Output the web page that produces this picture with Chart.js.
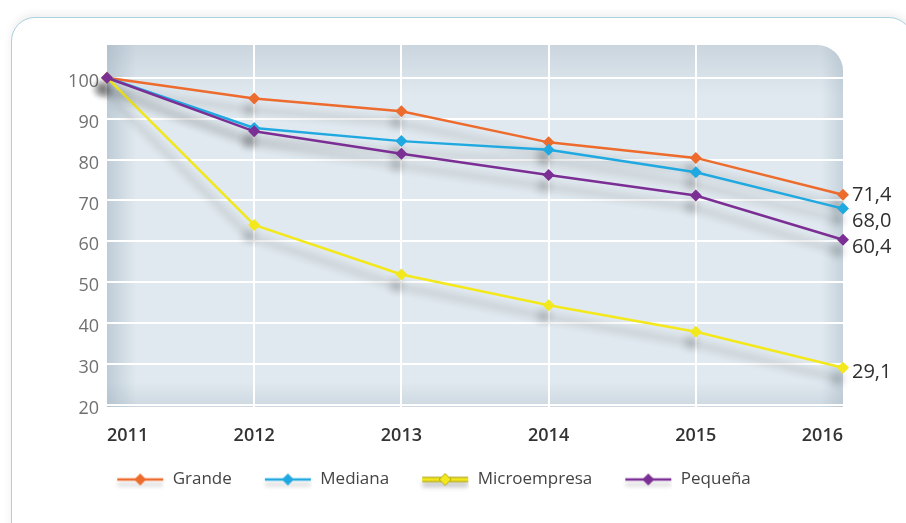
<!DOCTYPE html>
<html>
<head>
<meta charset="utf-8">
<script src="https://cdn.jsdelivr.net/npm/chart.js@4.4.1/dist/chart.umd.min.js"></script>
<style>
  html, body { margin: 0; padding: 0; background: #fff; }
  #wrap { position: relative; width: 906px; height: 523px; overflow: hidden; }
  #frame {
    position: absolute; left: 11px; top: 17px; width: 900px; height: 560px;
    border: 1.5px solid #aad2df; border-radius: 24px;
    box-shadow: 0 -3px 8px rgba(0, 0, 0, 0.07); background: #fff;
  }
  canvas { position: absolute; left: 0; top: 0; }
</style>
</head>
<body>
<div id="wrap">
  <div id="frame"></div>
  <canvas id="chart" width="906" height="523"></canvas>
</div>
<script>
// Datos (índice 2011 = 100)
const years = ['2011', '2012', '2013', '2014', '2015', '2016'];
const yTicks = [20, 30, 40, 50, 60, 70, 80, 90, 100];
const grande = [100, 94.9, 91.8, 84.2, 80.4, 71.4];
const mediana = [100, 87.7, 84.5, 82.4, 76.9, 68.0];
const micro = [100, 64.0, 51.9, 44.4, 37.9, 29.1];
const pequena = [100, 86.9, 81.4, 76.2, 71.2, 60.4];
const seriesNames = ['Grande', 'Mediana', 'Microempresa', 'Pequeña'];

const seriesColors = ['#ED6B2D', '#20A9E0', '#F3E81C', '#7B2E93'];
const legendOutline = [null, null, '#B5A91C', null];
const labelShift = [1, 13, 5, 8];   // desplazamiento vertical de las etiquetas finales
const drawOrder = [3, 2, 1, 0];     // Pequeña encima

// Icono de leyenda: hueco + línea + rombo (el hueco hace de separación entre elementos)
const ICON_W = 68;
function legendIcon(color, outline) {
  const c = document.createElement('canvas');
  c.width = ICON_W; c.height = 24;
  const g = c.getContext('2d');
  const x0 = 21, x1 = ICON_W - 1, mid = (x0 + x1) / 2;
  g.shadowColor = 'rgba(0,0,0,0.22)';
  g.shadowBlur = 4;
  g.shadowOffsetY = 5;
  if (outline) {
    g.strokeStyle = outline; g.lineWidth = 5.5;
    g.beginPath(); g.moveTo(x0, 12); g.lineTo(x1, 12); g.stroke();
    g.shadowColor = 'transparent';
  }
  g.strokeStyle = color; g.lineWidth = outline ? 3 : 2.5;
  g.beginPath(); g.moveTo(x0, 12); g.lineTo(x1, 12); g.stroke();
  g.shadowColor = 'transparent';
  g.fillStyle = color;
  g.beginPath();
  g.moveTo(mid, 6); g.lineTo(mid + 6, 12); g.lineTo(mid, 18); g.lineTo(mid - 6, 12);
  g.closePath(); g.fill();
  if (outline) { g.strokeStyle = outline; g.lineWidth = 1; g.stroke(); }
  return c;
}
const icons = seriesColors.map((c, i) => legendIcon(c, legendOutline[i]));

// Fondo del área del gráfico
const plotBg = {
  id: 'plotBg',
  beforeDraw(chart) {
    const { ctx, chartArea: a } = chart;
    const r = 26;
    ctx.save();
    ctx.beginPath();
    ctx.moveTo(a.left, a.top);
    ctx.lineTo(a.right - r, a.top);
    ctx.arcTo(a.right, a.top, a.right, a.top + r, r);
    ctx.lineTo(a.right, a.bottom);
    ctx.lineTo(a.left, a.bottom);
    ctx.closePath();
    ctx.clip();
    ctx.fillStyle = '#e0e9ef';
    ctx.fillRect(a.left, a.top, a.width, a.height);
    let g = ctx.createLinearGradient(0, a.top, 0, a.bottom);
    g.addColorStop(0, 'rgba(160,176,190,0.35)');
    g.addColorStop(0.14, 'rgba(160,176,190,0)');
    g.addColorStop(0.93, 'rgba(160,176,190,0)');
    g.addColorStop(1, 'rgba(160,176,190,0.3)');
    ctx.fillStyle = g;
    ctx.fillRect(a.left, a.top, a.width, a.height);
    g = ctx.createLinearGradient(a.left, 0, a.right, 0);
    g.addColorStop(0, 'rgba(150,168,184,0.45)');
    g.addColorStop(0.04, 'rgba(150,168,184,0)');
    g.addColorStop(0.97, 'rgba(150,168,184,0)');
    g.addColorStop(1, 'rgba(150,168,184,0.35)');
    ctx.fillStyle = g;
    ctx.fillRect(a.left, a.top, a.width, a.height);
    ctx.restore();
  }
};

// Sombra de las líneas
const lineShadow = {
  id: 'lineShadow',
  beforeDatasetDraw(chart) {
    const ctx = chart.ctx;
    ctx.save();
    ctx.shadowColor = 'rgba(40,40,40,0.33)';
    ctx.shadowBlur = 8;
    ctx.shadowOffsetX = -5;
    ctx.shadowOffsetY = 11;
  },
  afterDatasetDraw(chart) {
    chart.ctx.restore();
  }
};

// Etiquetas del último valor
const endLabels = {
  id: 'endLabels',
  afterDatasetsDraw(chart) {
    const ctx = chart.ctx;
    ctx.save();
    ctx.font = '20px "Open Sans"';
    ctx.fillStyle = '#2e2e2e';
    ctx.textBaseline = 'middle';
    chart.data.datasets.forEach((ds, i) => {
      const pts = chart.getDatasetMeta(i).data;
      const p = pts[pts.length - 1];
      const v = ds.data[ds.data.length - 1];
      ctx.fillText(v.toFixed(1).replace('.', ','), p.x + 9, p.y + labelShift[i]);
    });
    ctx.restore();
  }
};

const seriesData = [grande, mediana, micro, pequena];

new Chart(document.getElementById('chart'), {
  type: 'line',
  data: {
    labels: years,
    datasets: seriesData.map((d, i) => ({
      label: seriesNames[i],
      data: d,
      borderColor: seriesColors[i],
      backgroundColor: seriesColors[i],
      borderWidth: 2.5,
      pointStyle: 'rectRot',
      pointRadius: 6,
      pointBorderWidth: 0,
      pointBackgroundColor: seriesColors[i],
      tension: 0,
      clip: false,
      order: drawOrder[i]
    }))
  },
  options: {
    responsive: false,
    animation: false,
    layout: { padding: { left: 4, right: 63, top: 45, bottom: 25 } },
    scales: {
      x: {
        type: 'category',
        offset: false,
        afterFit: s => { s.height = 52; },
        border: { display: false },
        grid: {
          color: c => (c.index === 0 || c.index === years.length - 1) ? 'rgba(0,0,0,0)' : '#ffffff',
          lineWidth: 2,
          drawTicks: false
        },
        ticks: {
          align: 'inner',
          padding: 18,
          maxRotation: 0,
          color: '#333',
          font: { family: 'Open Sans', size: 18, weight: '600' }
        }
      },
      y: {
        min: 19.5,
        max: 108,
        afterBuildTicks: s => { s.ticks = yTicks.map(v => ({ value: v })); },
        afterFit: s => { s.width = 103; },
        border: { display: false },
        grid: { color: '#ffffff', lineWidth: 2, drawTicks: false },
        ticks: {
          padding: 8,
          labelOffset: 4,
          color: '#707070',
          font: { family: 'Open Sans', size: 18 }
        }
      }
    },
    plugins: {
      legend: {
        position: 'bottom',
        labels: {
          usePointStyle: true,
          pointStyleWidth: ICON_W,
          boxHeight: 16,
          padding: 12,
          color: '#444',
          font: { family: 'Open Sans', size: 17 },
          generateLabels: chart => chart.data.datasets.map((ds, i) => ({
            text: ds.label,
            pointStyle: icons[i],
            fillStyle: ds.borderColor,
            strokeStyle: ds.borderColor,
            lineWidth: 0,
            hidden: false,
            datasetIndex: i,
            fontColor: '#444'
          }))
        }
      },
      tooltip: { enabled: false }
    }
  },
  plugins: [plotBg, lineShadow, endLabels]
});
</script>
</body>
</html>
